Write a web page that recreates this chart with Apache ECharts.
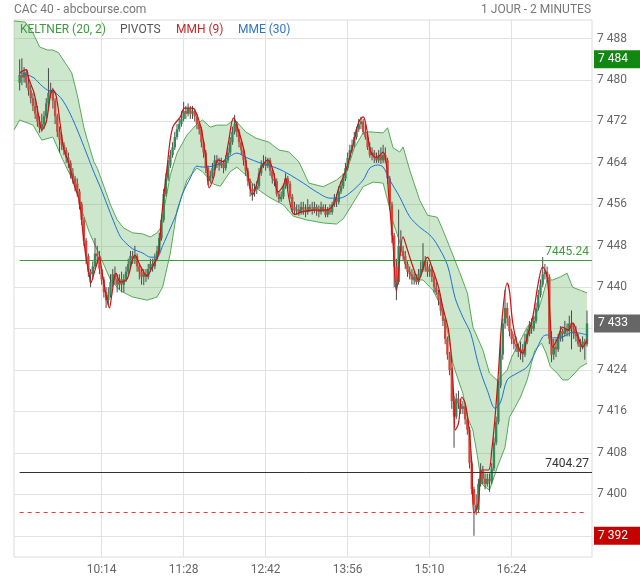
<!DOCTYPE html>
<html><head><meta charset="utf-8">
<script src="https://cdn.jsdelivr.net/npm/echarts@6/dist/echarts.min.js"></script>
<style>html,body{margin:0;padding:0;background:#fff}#c{width:640px;height:580px}</style>
</head><body><div id="c"></div>
<script>
// x values are minutes after 09:00; candles every 2 minutes
const startMinute = 0;
const stepMinutes = 2;
const xTickMinutes = [74, 148, 222, 296, 370, 444];
const xTickLabels = ['10:14', '11:28', '12:42', '13:56', '15:10', '16:24'];
const yTicks = [7392, 7400, 7408, 7416, 7424, 7432, 7440, 7448, 7456, 7464, 7472, 7480, 7488];
// candles: [open, close, low, high]
const candles = [
[7479.5,7481,7478,7484],[7481,7480.5,7479,7484.2],[7480.5,7481.5,7479.5,7482.5],[7481.5,7479.5,7478.5,7482],[7479.5,7478,7477,7481],
[7478,7476.5,7475.5,7479],[7476.5,7475,7474,7477.5],[7475,7473.5,7472.5,7476.5],[7473.5,7472,7471,7475],[7472,7470.8,7469.8,7473],
[7470.8,7471.5,7470,7473.5],[7471.5,7473,7470.5,7474],[7473,7475.5,7472.5,7476.5],[7475.5,7477.5,7474.5,7482.3],[7477.5,7478,7476.5,7479.5],
[7478,7476,7474.5,7478.5],[7476,7473,7471.5,7476.5],[7473,7470,7469,7473.5],[7470,7468.5,7466,7471],[7468.5,7467.5,7466.5,7469.5],
[7467.5,7466.5,7465.5,7468],[7466.5,7465,7464,7467],[7465,7464,7463,7466],[7464,7462,7461,7464.5],[7462,7461,7460,7463],
[7461,7460,7458.5,7461.5],[7460,7458.5,7457.5,7461],[7458.5,7456,7455,7459],[7456,7453,7452,7456.5],[7453,7449,7448,7453.5],
[7449,7446,7444.5,7449.5],[7446,7443,7442,7446.5],[7443,7442.5,7440,7443.5],[7442.5,7444,7441.5,7445],[7444,7446.5,7443.5,7449.5],
[7446.5,7446,7444.5,7448],[7446,7443.5,7442.5,7447],[7443.5,7441.5,7440.5,7444],[7441.5,7439,7438,7442],[7439,7437.5,7436,7440],
[7437.5,7438.5,7436.5,7440],[7438.5,7441,7438,7442.5],[7441,7442.5,7440,7443.5],[7442.5,7441.5,7440.5,7444],[7441.5,7440.5,7439,7442.5],
[7440.5,7441.5,7439.5,7442.5],[7441.5,7440.5,7439,7443],[7440.5,7441.5,7439,7442.5],[7441.5,7443,7441,7444],[7443,7444.5,7442.5,7445.5],
[7444.5,7446,7443.5,7447],[7446,7445.5,7444.5,7447],[7445.5,7446,7444.5,7448],[7446,7444,7443,7446.5],[7444,7443,7441.5,7444.5],
[7443,7442,7440.5,7443.5],[7442,7442.5,7440.4,7443.5],[7442.5,7442,7441,7443.5],[7442,7443.5,7441.5,7444.5],[7443.5,7444.5,7443,7445.5],
[7444.5,7444,7443,7445.5],[7444,7445.5,7443.5,7446.5],[7445.5,7447,7445,7448],[7447,7449.5,7446.5,7450.5],[7449.5,7453,7449,7454],
[7453,7458,7452.5,7459],[7458,7461,7457.5,7462],[7461,7463.5,7460.5,7464.5],[7463.5,7465.5,7463,7466.5],[7465.5,7467,7465,7468],
[7467,7469,7466.5,7470],[7469,7470.5,7468.5,7471.5],[7470.5,7471.5,7470,7472.5],[7471.5,7472.5,7471,7474],[7472.5,7474,7472,7475.8],
[7474,7473.5,7472.5,7475],[7473.5,7474.5,7473,7475.5],[7474.5,7473.5,7472.5,7475],[7473.5,7474,7472.5,7475],[7474,7473,7472,7474.5],
[7473,7471.5,7470.5,7473.5],[7471.5,7470.5,7469.5,7472],[7470.5,7468,7467,7471],[7468,7466,7465,7468.5],[7466,7463,7462,7466.5],
[7463,7460.5,7459.7,7463.5],[7460.5,7461.5,7460,7462.5],[7461.5,7463,7461,7464],[7463,7464.5,7462.5,7465.5],[7464.5,7464,7463,7465.5],
[7464,7463.5,7462.5,7465],[7463.5,7464,7463,7465],[7464,7463,7462,7464.5],[7463,7464.5,7462.5,7465.5],[7464.5,7466,7464,7467],
[7466,7468,7465.5,7469],[7468,7470,7467.5,7471],[7470,7471.5,7469.5,7473.3],[7471.5,7470,7469,7472],[7470,7468,7467,7470.5],
[7468,7466.5,7465.5,7468.5],[7466.5,7464.5,7463.5,7467],[7464.5,7462.5,7461.5,7465],[7462.5,7460.5,7459.5,7463],[7460.5,7459,7457.5,7461],
[7459,7458.5,7456.7,7460],[7458.5,7459,7457.5,7460],[7459,7459.5,7458,7460.5],[7459.5,7462,7459,7463],[7462,7463.5,7461.5,7464.5],
[7463.5,7464,7463,7465.5],[7464,7463.5,7462.5,7465.2],[7463.5,7464.5,7463,7465],[7464.5,7462.5,7461.5,7465],[7462.5,7461,7460,7463],
[7461,7460.5,7459.5,7462],[7460.5,7458,7457.5,7461],[7458,7457,7456.4,7458.5],[7457,7457.5,7456.5,7458.5],[7457.5,7459.5,7457,7460],
[7459.5,7461,7459,7462],[7461,7460,7459,7461.5],[7460,7457.5,7457,7460.5],[7457.5,7455.5,7454.5,7458],[7455.5,7454.8,7454,7456.5],
[7454.8,7455,7454,7456],[7455,7454.5,7453.8,7456],[7454.5,7455.5,7454,7456.5],[7455.5,7455,7454,7456.5],[7455,7454.5,7453.5,7456],
[7454.5,7455.5,7454,7457],[7455.5,7455,7454.5,7456],[7455,7454.8,7454,7456.5],[7454.8,7455.5,7454.3,7456.5],[7455.5,7455,7453.8,7456],
[7455,7454.5,7453.5,7455.8],[7454.5,7455.5,7454,7456.5],[7455.5,7455,7454.5,7456],[7455,7454,7453.5,7456],[7454,7455,7453.5,7455.5],
[7455,7454.5,7454,7456],[7454.5,7456,7454,7456.5],[7456,7457,7455.5,7458],[7457,7456.5,7455.5,7458],[7456.5,7458.5,7456,7459.5],
[7458.5,7459.5,7458,7460.5],[7459.5,7461,7459,7462],[7461,7463,7460.5,7464],[7463,7465,7462.5,7466],[7465,7466.5,7464.5,7467.5],
[7466.5,7467.5,7466,7468.5],[7467.5,7469,7467,7470],[7469,7470.5,7468.5,7471],[7470.5,7471.5,7470,7472.5],[7471.5,7472,7470.5,7472.9],
[7472,7470,7469.5,7472.5],[7470,7469,7468.5,7471.5],[7469,7467,7466.5,7469.5],[7467,7465.5,7465,7468],[7465.5,7466,7464.5,7467],
[7466,7465,7464,7466.5],[7465,7464.5,7464,7466],[7464.5,7465.5,7464,7466.5],[7465.5,7464.5,7463.8,7467],[7464.5,7465.5,7464,7467.5],
[7465.5,7464.5,7464,7467],[7464.5,7461,7460,7465],[7461,7456,7455,7461.5],[7456,7450,7448.5,7456.5],[7450,7444,7440,7450.5],
[7444,7441,7437.5,7445.5],[7441,7448,7440.5,7455],[7448,7447,7446,7451],[7447,7446,7445,7448],[7446,7444.5,7443.5,7447],
[7444.5,7443,7442,7445],[7443,7442.5,7441.5,7444],[7442.5,7441.5,7440.5,7443.5],[7441.5,7442,7440.5,7443],[7442,7441,7440.5,7442.5],
[7441,7442.5,7440.5,7443.5],[7442.5,7443.5,7442,7445],[7443.5,7445,7443,7448.5],[7445,7444,7443,7446],[7444,7443,7442,7445],
[7443,7443.5,7442,7444.5],[7443.5,7442,7441,7444],[7442,7440,7439,7442.5],[7440,7439,7438.5,7441],[7439,7437.5,7436.5,7439.5],
[7437.5,7435.5,7434.5,7438],[7435.5,7433.5,7432.5,7436],[7433.5,7430,7429,7434],[7430,7427,7426,7430.5],[7427,7424,7423,7427.5],
[7424,7418,7416.5,7424.5],[7418,7415,7409,7419],[7415,7418.5,7414.5,7419.5],[7418.5,7417.5,7416.5,7420],[7417.5,7416.5,7415.5,7418.5],
[7416.5,7417,7415.5,7418],[7417,7414.5,7413.5,7417.5],[7414.5,7412.5,7411.5,7415],[7412.5,7406,7405,7413],[7406,7401,7400,7406.5],
[7401,7398,7392,7401.5],[7398,7397,7396,7400],[7397,7402,7396.5,7403],[7402,7404.5,7401.5,7406],[7404.5,7403,7402,7405.5],
[7403,7402,7401,7404],[7402,7403,7401.5,7404],[7403,7402.5,7400.5,7404],[7402.5,7405,7402,7406],[7405,7410,7404.5,7411],
[7410,7414,7409.5,7415],[7414,7421,7413.5,7422],[7421,7427,7420.5,7430],[7427,7433,7426,7434],[7433,7436,7432,7439.5],
[7436,7434,7432.5,7437],[7434,7431.5,7430.5,7434.5],[7431.5,7430,7429,7432],[7430,7429,7428,7431],[7429,7428.5,7427.5,7430.5],
[7428.5,7427.5,7426.5,7429],[7427.5,7428,7426,7429.5],[7428,7427,7425.5,7429],[7427,7429.5,7426.5,7431],[7429.5,7431,7429,7432],
[7431,7432.5,7430.5,7433.5],[7432.5,7432,7431,7434],[7432,7433.5,7431.5,7434.5],[7433.5,7436,7433,7437],[7436,7438.5,7435.5,7439.5],
[7438.5,7440.5,7438,7441.5],[7440.5,7442.5,7440,7445.8],[7442.5,7443,7441.5,7444.5],[7443,7442,7441,7444],[7442,7430,7429,7442.5],
[7430,7427,7425.5,7431.5],[7427,7428.5,7426,7430],[7428.5,7428,7426.5,7430],[7428,7430,7427.5,7431],[7430,7431.5,7429.5,7432.5],
[7431.5,7431,7429.5,7432],[7431,7432,7430.5,7433.5],[7432,7431.5,7430.5,7433],[7431.5,7433,7430.5,7434.5],[7433,7432,7428,7435.5],
[7432,7431,7430,7433],[7431,7430.5,7429.5,7432.5],[7430.5,7429,7428.5,7431],[7429,7428.5,7427.5,7430],[7428.5,7429.5,7428,7430.5],
[7429.5,7429,7426,7430],[7429,7433,7428.5,7435.5]
];
// indicator lines: [minute, price]
const mmh = [[0,7481.4],[6,7482.0],[8,7480.4],[13,7477.5],[17,7473.3],[20,7470.4],[24,7471.9],[28,7477.3],[30,7478.1],[33,7476.9],[37,7470.8],[40,7466.5],[44,7464.2],[49,7459.9],[54,7456.5],[57,7450.7],[60,7445.6],[63,7442.2],[64,7440.8],[68,7443.3],[72,7445.8],[74,7443.3],[78,7438.5],[81,7436.0],[83,7438.3],[87,7442.7],[91,7441.0],[97,7441.6],[104,7446.2],[109,7444.1],[115,7442.2],[120,7444.1],[125,7446.2],[128,7453.4],[133,7463.0],[138,7470.8],[145,7472.9],[149,7474.6],[156,7474.6],[161,7472.7],[165,7469.4],[169,7463.0],[171,7459.2],[175,7461.1],[179,7464.6],[184,7464.2],[188,7467.5],[193,7472.7],[195,7471.9],[202,7466.9],[206,7461.7],[210,7457.8],[213,7459.2],[218,7463.0],[224,7464.6],[229,7462.3],[233,7458.4],[238,7459.7],[240,7461.1],[243,7457.2],[248,7454.0],[254,7454.5],[265,7454.9],[276,7454.9],[283,7455.9],[288,7459.2],[295,7463.0],[301,7467.5],[306,7471.9],[310,7472.9],[313,7470.8],[317,7466.1],[322,7465.0],[328,7466.1],[331,7463.6],[333,7457.8],[337,7448.2],[340,7439.3],[346,7449.7],[350,7447.2],[355,7443.9],[360,7441.4],[368,7445.8],[372,7443.9],[378,7440.0],[382,7436.0],[387,7431.7],[390,7425.3],[392,7417.6],[393,7412.4],[396,7413.7],[399,7418.8],[402,7417.6],[405,7413.7],[408,7406.0],[410,7396.4],[414,7398.3],[417,7404.7],[423,7404.7],[426,7408.5],[429,7414.9],[432,7423.4],[435,7433.1],[440,7440.8],[442,7439.3],[445,7433.1],[450,7428.4],[454,7427.3],[458,7430.4],[463,7434.2],[468,7440.8],[472,7443.9],[476,7442.0],[479,7433.1],[481,7428.4],[486,7430.4],[490,7432.3],[495,7431.7],[499,7433.1],[504,7430.4],[508,7428.4],[512,7429.8]];
const mme = [[0,7481.4],[7,7481.0],[13,7480.4],[19,7479.1],[25,7478.1],[31,7477.7],[37,7476.6],[43,7474.6],[49,7471.9],[55,7468.8],[61,7465.5],[67,7462.2],[73,7459.2],[79,7455.9],[85,7452.6],[91,7449.7],[97,7448.3],[102,7447.4],[111,7446.6],[118,7445.8],[124,7445.8],[129,7448.0],[136,7451.4],[142,7454.5],[147,7458.0],[154,7461.1],[160,7463.4],[165,7463.2],[175,7463.4],[181,7464.0],[190,7465.3],[196,7465.9],[205,7465.0],[217,7464.0],[232,7463.0],[244,7461.7],[256,7460.1],[268,7458.4],[280,7457.2],[289,7457.2],[298,7458.2],[310,7460.7],[316,7463.0],[323,7463.6],[328,7463.2],[334,7460.7],[343,7457.4],[352,7453.6],[361,7451.6],[370,7450.1],[376,7448.5],[386,7444.3],[393,7437.9],[400,7434.2],[407,7431.1],[413,7425.9],[417,7423.0],[422,7420.1],[429,7416.6],[434,7417.8],[440,7422.1],[449,7423.4],[458,7424.6],[465,7427.3],[472,7430.4],[476,7430.8],[481,7430.2],[490,7430.4],[499,7431.3],[506,7431.1],[512,7430.8]];
const keltnerUpper = [[-5,7491.4],[5,7491.2],[12,7489.1],[18,7486.4],[25,7485.8],[30,7485.8],[35,7485.3],[43,7482.7],[47,7481.4],[52,7477.1],[58,7470.8],[61,7468.5],[67,7464.2],[70,7463.0],[76,7459.5],[82,7455.9],[88,7453.0],[94,7451.4],[102,7450.5],[111,7450.3],[118,7449.7],[124,7450.5],[127,7451.4],[131,7455.9],[136,7461.7],[142,7465.9],[151,7469.4],[160,7471.5],[165,7472.3],[172,7470.9],[178,7471.3],[187,7471.3],[193,7472.3],[196,7471.9],[204,7470.0],[213,7468.8],[225,7468.0],[234,7466.5],[243,7466.1],[252,7464.2],[261,7460.1],[274,7459.4],[286,7460.7],[295,7462.3],[302,7466.9],[310,7469.8],[316,7470.0],[328,7469.8],[332,7470.8],[337,7466.9],[343,7466.1],[346,7467.1],[352,7462.6],[361,7456.8],[368,7453.9],[377,7453.5],[382,7451.0],[388,7447.8],[397,7442.9],[404,7438.9],[409,7432.3],[418,7427.9],[424,7423.4],[431,7422.0],[440,7424.0],[444,7426.5],[452,7429.8],[458,7432.3],[465,7434.2],[470,7436.9],[476,7441.4],[481,7441.4],[488,7442.0],[494,7442.7],[499,7440.0],[506,7439.4],[512,7438.9]];
const keltnerLower = [[-5,7470.4],[0,7472.3],[12,7471.3],[20,7468.4],[30,7469.0],[39,7464.6],[52,7458.8],[57,7454.3],[63,7450.5],[73,7445.8],[82,7441.4],[91,7439.3],[102,7438.1],[115,7437.5],[124,7438.1],[129,7440.0],[136,7446.6],[142,7454.9],[151,7460.7],[160,7463.0],[165,7462.3],[175,7459.9],[181,7459.5],[190,7462.3],[196,7463.2],[204,7461.7],[213,7459.2],[225,7457.4],[238,7455.9],[247,7453.7],[259,7453.0],[274,7452.4],[286,7452.2],[292,7453.2],[301,7456.3],[310,7459.4],[319,7460.3],[328,7460.1],[332,7456.8],[337,7452.6],[343,7448.7],[348,7444.3],[355,7441.4],[364,7441.4],[373,7439.4],[379,7436.9],[386,7431.7],[391,7425.3],[395,7422.6],[400,7419.5],[404,7414.9],[409,7412.4],[413,7407.5],[415,7404.7],[418,7401.8],[424,7400.8],[431,7405.2],[438,7409.1],[442,7414.9],[447,7416.8],[452,7418.8],[458,7422.1],[465,7427.9],[471,7429.2],[475,7427.3],[479,7424.6],[485,7423.4],[490,7422.1],[495,7422.1],[501,7423.4],[506,7424.6],[512,7425.3]];
// pivot levels and value tags
const pivotR = 7445.24, pivotS = 7404.27, pivotS2 = 7396.6;
const dayHigh = 7484, lastPrice = 7433, dayLow = 7392;

const candleData = candles.map((c, i) => [startMinute + i * stepMinutes, c[0], c[1], c[2], c[3]]);
const fmtPrice = v => String(Math.round(v)).replace(/\B(?=(\d{3})+(?!\d))/g, ' ');
const fmtTime = m => { const t = 9 * 60 + m; return Math.floor(t / 60) + ':' + String(t % 60).padStart(2, '0'); };
const FONT = 'Roboto, "Noto Sans", sans-serif';

const chart = echarts.init(document.getElementById('c'), null, { renderer: 'canvas' });
const tag = (v, bg) => ({
  yAxis: v,
  lineStyle: { color: 'rgba(0,0,0,0)', width: 0 },
  label: { show: true, position: 'end', distance: 2, formatter: fmtPrice(v), color: '#fff', backgroundColor: bg,
    padding: [3, 4, 3, 4], width: 40, fontSize: 12, fontFamily: FONT }
});
chart.setOption({
  animation: false,
  textStyle: { fontFamily: FONT },
  grid: { left: 14, right: 48, top: 20, bottom: 23, show: true, borderColor: '#dcdcdc', borderWidth: 1 },
  xAxis: {
    type: 'value', min: -5.1, max: 516.5,
    axisLine: { show: false }, axisTick: { show: false, customValues: xTickMinutes },
    axisLabel: { customValues: xTickMinutes, formatter: v => xTickLabels[xTickMinutes.indexOf(v)] || fmtTime(v), color: '#666', fontSize: 12, margin: 7 },
    splitLine: { show: true, lineStyle: { color: '#e2e2e2' } }
  },
  yAxis: {
    type: 'value', position: 'right', min: 7387.9, max: 7491.6, scale: true,
    axisLine: { show: false }, axisTick: { show: false, customValues: yTicks },
    axisLabel: { customValues: yTicks, formatter: fmtPrice, color: '#666', fontSize: 12, margin: 5 },
    splitLine: { show: true, lineStyle: { color: '#e2e2e2' } }
  },
  graphic: [
    { type: 'text', left: 14, top: 4, style: { text: 'CAC 40 - abcbourse.com', fill: '#777', font: '12px ' + FONT } },
    { type: 'text', right: 49, top: 4, style: { text: '1 JOUR - 2 MINUTES', fill: '#777', font: '12px ' + FONT } },
    { type: 'text', left: 20, top: 24, z: 100, style: { text: 'KELTNER (20, 2)', fill: '#3d9c3d', font: '12px ' + FONT } },
    { type: 'text', left: 120, top: 24, z: 100, style: { text: 'PIVOTS', fill: '#555', font: '12px ' + FONT } },
    { type: 'text', left: 176, top: 24, z: 100, style: { text: 'MMH (9)', fill: '#c62828', font: '12px ' + FONT } },
    { type: 'text', left: 238, top: 24, z: 100, style: { text: 'MME (30)', fill: '#2f74c6', font: '12px ' + FONT } }
  ],
  series: [
    {
      type: 'custom', name: 'band', silent: true, z: 1,
      data: [[keltnerUpper[0][0], keltnerUpper[0][1]]],
      renderItem: (params, api) => {
        const pts = keltnerUpper.map(p => api.coord(p));
        for (let i = keltnerLower.length - 1; i >= 0; i--) pts.push(api.coord(keltnerLower[i]));
        return { type: 'polygon', shape: { points: pts }, style: { fill: 'rgba(70,165,70,0.27)' } };
      }
    },
    { type: 'line', name: 'kU', data: keltnerUpper, showSymbol: false, symbol: 'none', z: 2, lineStyle: { color: '#55a955', width: 1 } },
    { type: 'line', name: 'kL', data: keltnerLower, showSymbol: false, symbol: 'none', z: 2, lineStyle: { color: '#55a955', width: 1 } },
    {
      type: 'custom', name: 'candles', z: 3,
      data: candleData,
      encode: { x: 0, y: [1, 2, 3, 4] },
      renderItem: (params, api) => {
        const t = api.value(0), o = api.value(1), c = api.value(2), l = api.value(3), h = api.value(4);
        const pO = api.coord([t, o]), pC = api.coord([t, c]), pL = api.coord([t, l]), pH = api.coord([t, h]);
        const top = Math.min(pO[1], pC[1]);
        const bh = Math.max(Math.abs(pO[1] - pC[1]), 1);
        const w = 2.4;
        return { type: 'group', children: [
          { type: 'line', shape: { x1: pL[0], y1: pL[1], x2: pH[0], y2: pH[1] }, style: { stroke: '#4a4a4a', lineWidth: 1 } },
          { type: 'rect', shape: { x: pO[0] - w / 2, y: top, width: w, height: bh }, style: { fill: c >= o ? '#2e8b57' : '#cf4a3a' } }
        ] };
      }
    },
    { type: 'line', name: 'MME', data: mme, showSymbol: false, symbol: 'none', smooth: 0.3, z: 4, lineStyle: { color: '#1c6fd1', width: 1 },
      markLine: { silent: true, symbol: ['none', 'none'], animation: false,
        data: [
          [{ coord: [0, pivotR], lineStyle: { color: '#3d9c3d', width: 1, type: 'solid' },
             label: { show: true, position: 'insideEndTop', formatter: String(pivotR), color: '#3d9c3d', fontSize: 12, distance: [3, 2] } },
           { coord: [516.5, pivotR] }],
          [{ coord: [0, pivotS], lineStyle: { color: '#333', width: 1, type: 'solid' },
             label: { show: true, position: 'insideEndTop', formatter: String(pivotS), color: '#333', fontSize: 12, distance: [3, 2] } },
           { coord: [516.5, pivotS] }],
          [{ coord: [0, pivotS2], lineStyle: { color: '#e03a3a', width: 1, type: [4, 4] }, label: { show: false } },
           { coord: [512, pivotS2] }]
        ] } },
    { type: 'line', name: 'MMH', data: mmh, showSymbol: false, symbol: 'none', smooth: 0.35, z: 5, lineStyle: { color: '#cc1111', width: 1.2 },
      markLine: { silent: true, symbol: ['none', 'none'], animation: false, z: 20,
        data: [tag(dayHigh, '#128712'), tag(lastPrice, '#666666'), tag(dayLow, '#c40000')] } }
  ]
});
</script>
</body></html>
